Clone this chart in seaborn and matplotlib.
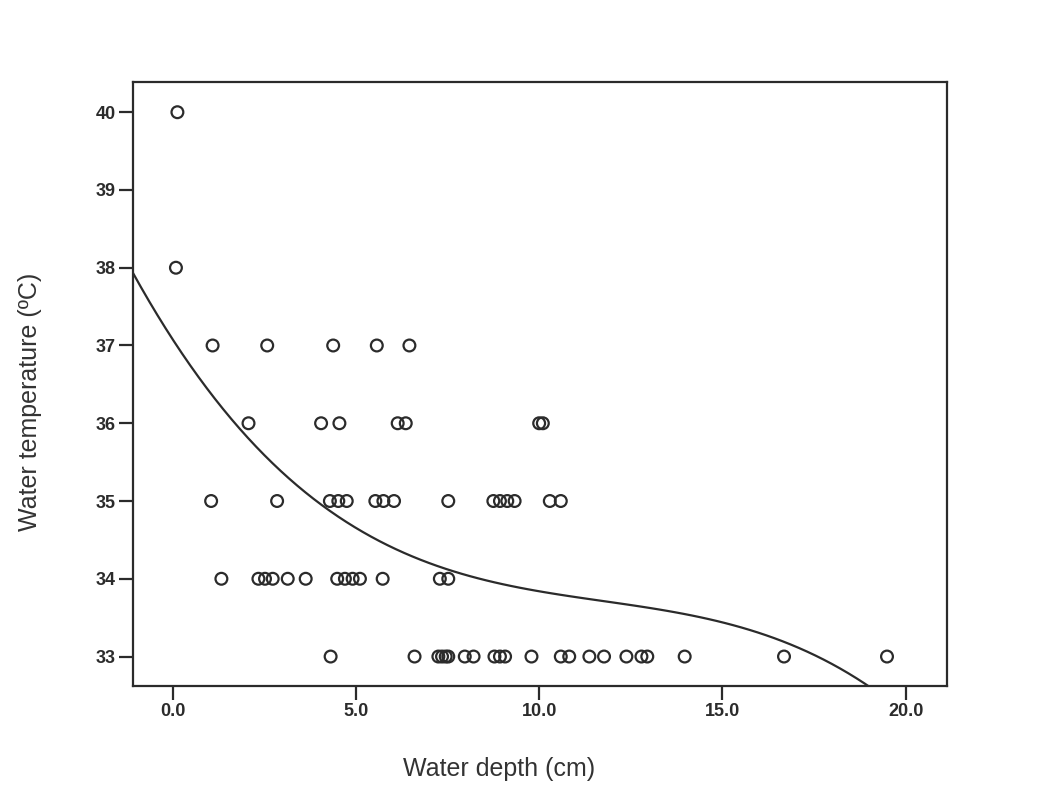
import numpy as np
import pandas as pd
import matplotlib
matplotlib.use("Agg")
import matplotlib.pyplot as plt
import seaborn as sns
from matplotlib.ticker import FormatStrFormatter
from matplotlib import font_manager

# Data: water depth (cm) grouped by water temperature (ºC)
depth_40 = [0.13]
depth_38 = [0.09]
depth_37 = [1.09, 2.58, 4.38, 5.57, 6.46]
depth_36 = [2.07, 4.05, 4.55, 6.14, 6.36, 10.0, 10.1]
depth_35 = [1.05, 2.85, 4.29, 4.52, 4.75, 5.53, 5.75, 6.04, 7.52,
            8.75, 8.93, 9.13, 9.33, 10.29, 10.59]
depth_34 = [1.33, 2.34, 2.52, 2.73, 3.14, 3.63, 4.49, 4.70, 4.91,
            5.11, 5.73, 7.29, 7.52]
depth_33 = [4.31, 6.60, 7.25, 7.35, 7.45, 7.52, 7.97, 8.21, 8.78, 8.93,
            9.07, 9.79, 10.59, 10.82, 11.37, 11.77, 12.38, 12.79, 12.95,
            13.97, 16.68, 19.49]

temps = [40, 38, 37, 36, 35, 34, 33]
groups = [depth_40, depth_38, depth_37, depth_36, depth_35, depth_34, depth_33]

x_ticks = [0, 5, 10, 15, 20]
y_ticks = [33, 34, 35, 36, 37, 38, 39, 40]

df = pd.DataFrame({
    "depth": [d for g in groups for d in g],
    "temp": [t for t, g in zip(temps, groups) for _ in g],
})

sns.set_theme(style="ticks")
plt.rcParams["font.family"] = ["Liberation Sans", "DejaVu Sans"]

names = {f.name for f in font_manager.fontManager.ttflist}
tick_family = ["Liberation Sans Narrow", "Liberation Sans"] if "Liberation Sans Narrow" in names else ["Liberation Sans"]

fig = plt.figure(figsize=(10.59, 7.95), dpi=100)
ax = fig.add_axes([0.1253, 0.137, 0.7687, 0.760])
ax.set_xlim(-1.09, 21.12)
ax.set_ylim(32.62, 40.39)

ink = "#2b2b2b"
sns.regplot(data=df, x="depth", y="temp", order=3, ci=None, truncate=False,
            scatter=False, ax=ax, line_kws=dict(color=ink, lw=1.6))
sns.scatterplot(data=df, x="depth", y="temp", ax=ax, s=72, facecolor="none",
                edgecolor=ink, linewidth=1.6, zorder=3)
ax.set_xlim(-1.09, 21.12)
ax.set_ylim(32.62, 40.39)

ax.set_xticks(x_ticks)
ax.set_yticks(y_ticks)
ax.xaxis.set_major_formatter(FormatStrFormatter("%.1f"))
ax.tick_params(axis="both", direction="out", length=10, width=1.6, color=ink,
               labelsize=13, labelcolor=ink, pad=2)
for lab in ax.get_xticklabels() + ax.get_yticklabels():
    lab.set_fontweight("bold")
    lab.set_family(tick_family)
for sp in ax.spines.values():
    sp.set_visible(True)
    sp.set_linewidth(1.6)
    sp.set_color(ink)

ax.set_xlabel("Water depth (cm)", fontsize=18, color="#333333")
ax.set_ylabel("Water temperature (ºC)", fontsize=18, color="#333333")
ax.xaxis.set_label_coords(0.45, -0.118)
ax.yaxis.set_label_coords(-0.112, 0.47)

fig.savefig("out.png", dpi=100, facecolor="white")
